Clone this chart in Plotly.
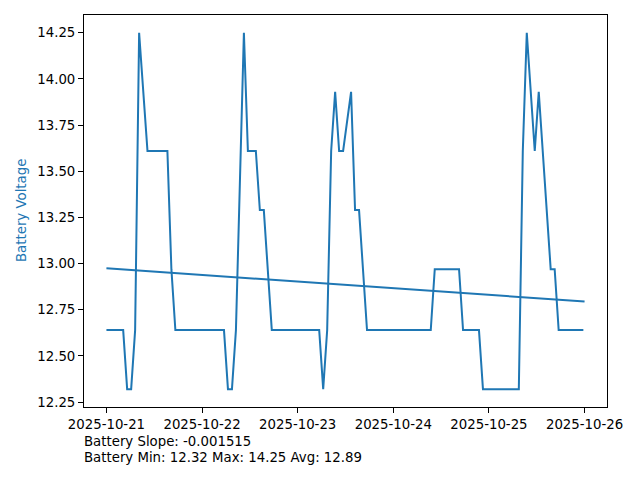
import plotly.graph_objects as go

# Battery voltage readings (vertices of the plotted line)
times = [
    "2025-10-21 00:00", "2025-10-21 04:12", "2025-10-21 05:12", "2025-10-21 06:12",
    "2025-10-21 07:12", "2025-10-21 08:12", "2025-10-21 10:18", "2025-10-21 15:18",
    "2025-10-21 16:18", "2025-10-21 17:18",
    "2025-10-22 05:30", "2025-10-22 06:30", "2025-10-22 07:30", "2025-10-22 08:30",
    "2025-10-22 10:30", "2025-10-22 11:30", "2025-10-22 13:30", "2025-10-22 14:30",
    "2025-10-22 15:30", "2025-10-22 17:30",
    "2025-10-23 05:24", "2025-10-23 06:24", "2025-10-23 07:24", "2025-10-23 08:24",
    "2025-10-23 09:24", "2025-10-23 10:24", "2025-10-23 11:24", "2025-10-23 13:24",
    "2025-10-23 14:24", "2025-10-23 15:24", "2025-10-23 17:24",
    "2025-10-24 09:24", "2025-10-24 10:24", "2025-10-24 16:30", "2025-10-24 17:30",
    "2025-10-24 21:30", "2025-10-24 22:30",
    "2025-10-25 07:30", "2025-10-25 08:30", "2025-10-25 09:30", "2025-10-25 11:30",
    "2025-10-25 12:30", "2025-10-25 15:30", "2025-10-25 16:30", "2025-10-25 17:30",
    "2025-10-25 23:42",
]
voltage = [
    12.64, 12.64, 12.32, 12.32,
    12.64, 14.25, 13.61, 13.61,
    12.97, 12.64,
    12.64, 12.32, 12.32, 12.64,
    14.25, 13.61, 13.61, 13.29,
    13.29, 12.64,
    12.64, 12.32, 12.64, 13.61,
    13.93, 13.61, 13.61, 13.93,
    13.29, 13.29, 12.64,
    12.64, 12.97, 12.97, 12.64,
    12.64, 12.32,
    12.32, 13.61, 14.25, 13.61,
    13.93, 12.97, 12.97, 12.64,
    12.64,
]

# Linear trend line endpoints
trend_times = ["2025-10-21 00:00", "2025-10-26 00:00"]
trend_values = [12.975, 12.795]

y_ticks = [12.25, 12.50, 12.75, 13.00, 13.25, 13.50, 13.75, 14.00, 14.25]
y_tick_labels = ["12.25", "12.50", "12.75", "13.00", "13.25", "13.50", "13.75", "14.00", "14.25"]

slope_text = "Battery Slope: -0.001515"
stats_text = "Battery Min: 12.32 Max: 14.25 Avg: 12.89"

BLUE = "#1f77b4"
FONT = "DejaVu Sans"

fig = go.Figure()
fig.add_trace(go.Scatter(x=times, y=voltage, mode="lines",
                         line=dict(color=BLUE, width=2), showlegend=False))
fig.add_trace(go.Scatter(x=trend_times, y=trend_values, mode="lines",
                         line=dict(color=BLUE, width=2), showlegend=False))

# page body has an 8px margin; compensate so the plot lands where it should
OFF = 8
W, H = 640 - OFF, 480 - OFF
L, R, T, B = 84 - OFF, 33, 15 - OFF, 73
plot_w = W - L - R
plot_h = H - T - B
bottom_px = OFF + T + plot_h  # page y of plot bottom

fig.update_layout(
    width=W, height=H,
    margin=dict(l=L, r=R, t=T, b=B, pad=0),
    paper_bgcolor="white", plot_bgcolor="white",
    font=dict(family=FONT, size=13.3, color="black"),
    xaxis=dict(
        range=["2025-10-20 18:22", "2025-10-26 05:38"],
        tickformat="%Y-%m-%d", dtick=86400000, tick0="2025-10-21",
        ticks="outside", ticklen=5, tickwidth=1, tickcolor="black",
        showline=True, linecolor="black", linewidth=1, mirror=True,
        showgrid=False, zeroline=False,
        tickfont=dict(family=FONT, size=13.3, color="black"),
    ),
    yaxis=dict(
        range=[12.2235, 14.3465],
        tickvals=y_ticks, ticktext=y_tick_labels,
        ticks="outside", ticklen=5, tickwidth=1, tickcolor="black",
        showline=True, linecolor="black", linewidth=1, mirror=True,
        showgrid=False, zeroline=False,
        tickfont=dict(family=FONT, size=13.3, color="black"),
    ),
)

fig.add_annotation(
    text="Battery Voltage", textangle=-90,
    xref="paper", yref="paper",
    x=(21 - 84) / plot_w, y=0.5, xanchor="center", yanchor="middle",
    showarrow=False, font=dict(family=FONT, size=13.3, color=BLUE),
)
fig.add_annotation(
    text=slope_text, xref="paper", yref="paper",
    x=0, y=-(441.5 - bottom_px) / plot_h, xanchor="left", yanchor="middle",
    xshift=-2,
    showarrow=False, font=dict(family=FONT, size=13.3, color="black"),
)
fig.add_annotation(
    text=stats_text, xref="paper", yref="paper",
    x=0, y=-(457 - bottom_px) / plot_h, xanchor="left", yanchor="middle",
    xshift=-2,
    showarrow=False, font=dict(family=FONT, size=13.3, color="black"),
)

fig.write_html("out.html")
